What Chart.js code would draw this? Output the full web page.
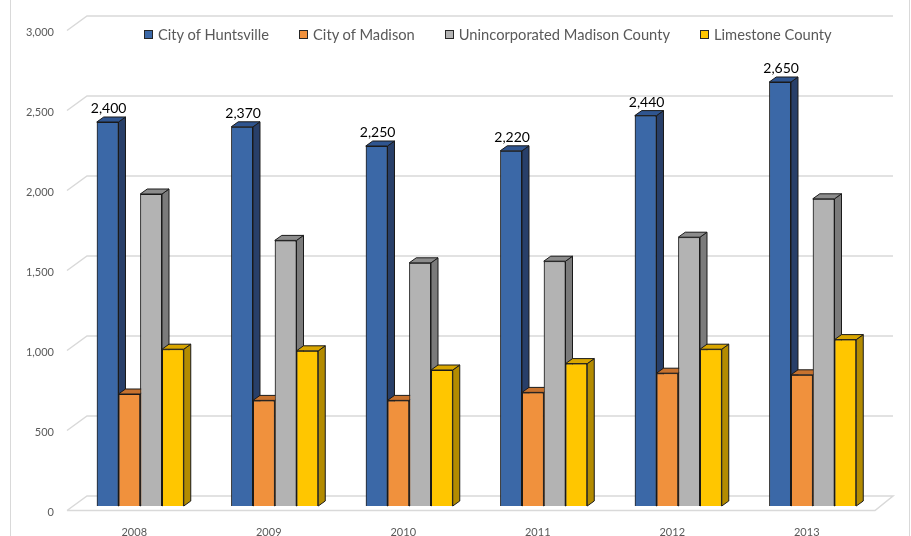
<!DOCTYPE html>
<html>
<head>
<meta charset="utf-8">
<title>Building permits</title>
<script src="https://cdn.jsdelivr.net/npm/chart.js@4.4.0/dist/chart.umd.min.js"></script>
<style>
  html, body { margin: 0; padding: 0; background: #fff; }
  #wrap { position: relative; width: 911px; height: 536px; overflow: hidden; }
  #legend {
    position: absolute; left: 144px; top: 25px; display: flex;
    font-family: Lato, sans-serif; font-size: 14.7px; color: #595959; white-space: nowrap;
  }
  .item { display: flex; align-items: center; margin-right: 30px; }
  .box { width: 7px; height: 7px; border: 1px solid #262626; margin-right: 5px; }
</style>
</head>
<body>
<div id="wrap">
  <canvas id="permitChart" width="911" height="536"></canvas>
  <div id="legend"></div>
</div>
<script>
// values
const years = ['2008', '2009', '2010', '2011', '2012', '2013'];
const huntsville = [2400, 2370, 2250, 2220, 2440, 2650];
const madison = [700, 660, 660, 710, 830, 820];
const unincorporated = [1950, 1660, 1520, 1530, 1680, 1920];
const limestone = [980, 970, 850, 890, 980, 1040];
const seriesNames = ['City of Huntsville', 'City of Madison', 'Unincorporated Madison County', 'Limestone County'];
const yTicks = [0, 500, 1000, 1500, 2000, 2500, 3000];

// front / top / side colours for the fake 3d boxes
const faceColors = ['#3b68a7', '#f0913d', '#b3b3b3', '#ffc600'];
const topColors = ['#2f5590', '#c7722e', '#8c8c8c', '#d9a600'];
const sideColors = ['#283f69', '#b5651f', '#7b7b7b', '#b38b00'];
const DX = 7, DY = 5;

const seriesValues = [huntsville, madison, unincorporated, limestone];

// Legend (plain html so it can sit over the plot like the original)
const legendEl = document.getElementById('legend');
seriesNames.forEach((name, i) => {
    const item = document.createElement('div');
    item.className = 'item';
    item.innerHTML = `<span class="box" style="background:${faceColors[i]}"></span><span>${name}</span>`;
    legendEl.appendChild(item);
});

// back wall gridlines + floor
const wallPlugin = {
    id: 'wall',
    beforeDatasetsDraw(chart) {
        const ctx = chart.ctx;
        const area = chart.chartArea;
        const y = chart.scales.y;
        const backL = area.left + 14, frontL = area.left - 6;
        const backR = area.right + 13, frontR = area.right - 5;
        ctx.save();
        // outer frame sides
        ctx.strokeStyle = '#d9d9d9';
        ctx.lineWidth = 1;
        ctx.beginPath();
        ctx.moveTo(10.5, 0); ctx.lineTo(10.5, 536);
        ctx.moveTo(909.5, 0); ctx.lineTo(909.5, 536);
        ctx.stroke();

        ctx.strokeStyle = '#d9d9d9';
        ctx.lineWidth = 1.5;
        yTicks.forEach(v => {
            const py = y.getPixelForValue(v);
            const back = py - 10, front = py + 4.5;
            ctx.beginPath();
            ctx.moveTo(frontL, front);
            ctx.lineTo(backL, back);
            ctx.lineTo(backR, back);
            if (v === 0) {
                ctx.lineTo(frontR, front);
                ctx.lineTo(frontL, front);
            }
            ctx.stroke();
        });
        ctx.restore();
    }
};

function drawBox(ctx, bar, d) {
    const l = bar.x - bar.width / 2, r = bar.x + bar.width / 2;
    const t = bar.y, b = bar.base;
    ctx.strokeStyle = '#1a1a1a';
    ctx.lineWidth = 1;
    // right side
    ctx.beginPath();
    ctx.moveTo(r, t);
    ctx.lineTo(r + DX, t - DY);
    ctx.lineTo(r + DX, b - DY);
    ctx.lineTo(r, b);
    ctx.closePath();
    ctx.fillStyle = sideColors[d];
    ctx.fill();
    ctx.stroke();
    // top
    ctx.beginPath();
    ctx.moveTo(l, t);
    ctx.lineTo(l + DX, t - DY);
    ctx.lineTo(r + DX, t - DY);
    ctx.lineTo(r, t);
    ctx.closePath();
    ctx.fillStyle = topColors[d];
    ctx.fill();
    ctx.stroke();
}

// side and top faces, then redraw the front so the next bar hides the side
const boxPlugin = {
    id: 'boxes',
    afterDatasetsDraw(chart) {
        const ctx = chart.ctx;
        ctx.save();
        years.forEach((yr, i) => {
            seriesValues.forEach((vals, d) => {
                const bar = chart.getDatasetMeta(d).data[i];
                bar.draw(ctx, chart.chartArea);
                drawBox(ctx, bar, d);
            });
        });
        // value labels on the Huntsville bars only
        ctx.fillStyle = '#000';
        ctx.font = '14px Lato';
        ctx.textAlign = 'center';
        ctx.textBaseline = 'alphabetic';
        chart.getDatasetMeta(0).data.forEach((bar, i) => {
            ctx.fillText(huntsville[i].toLocaleString('en-US'), bar.x + 1, bar.y - 9);
        });
        ctx.restore();
    }
};

Chart.defaults.font.family = 'Lato';

const chart = new Chart(document.getElementById('permitChart'), {
    type: 'bar',
    data: {
        labels: years,
        datasets: seriesValues.map((vals, d) => ({
            label: seriesNames[d],
            data: vals,
            backgroundColor: faceColors[d],
            borderColor: '#1a1a1a',
            borderWidth: 1,
            barPercentage: 1,
            categoryPercentage: 0.647
        }))
    },
    options: {
        responsive: false,
        animation: false,
        devicePixelRatio: 1,
        layout: { padding: { left: 0, right: 31, top: 26, bottom: 0 } },
        plugins: {
            legend: { display: false },
            tooltip: { enabled: false }
        },
        scales: {
            x: {
                grid: { display: false, drawTicks: false },
                border: { display: false },
                ticks: { color: '#595959', font: { size: 11 }, padding: 20, labelOffset: -6 },
                afterFit: s => { s.height = 30; }
            },
            y: {
                min: 0,
                max: 3000,
                grid: { display: false, drawTicks: false },
                border: { display: false },
                ticks: { stepSize: 500, color: '#595959', font: { size: 11 }, padding: 19, labelOffset: 6 },
                afterFit: s => { s.width = 73; }
            }
        }
    },
    plugins: [wallPlugin, boxPlugin]
});
</script>
</body>
</html>
